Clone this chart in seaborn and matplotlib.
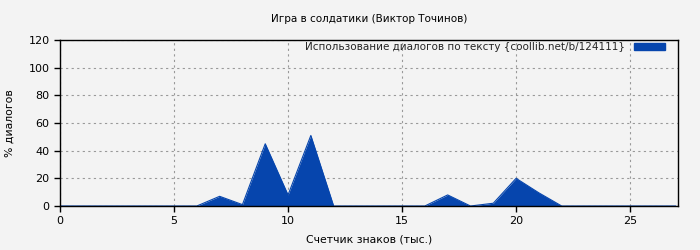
import matplotlib
matplotlib.use("Agg")
import matplotlib.pyplot as plt
import seaborn as sns
import pandas as pd
from matplotlib.patches import Patch

x_vals = [0, 1, 2, 3, 4, 5, 6, 7, 8, 9, 10, 11, 12, 13, 14, 15, 16, 17, 18, 19, 20, 21, 22, 23, 24, 25, 26, 27]
y_vals = [0, 0, 0, 0, 0, 0, 0, 7, 1, 45, 8, 51, 0, 0, 0, 0, 0, 8, 0, 2, 20, 9.5, 0, 0, 0, 0, 0, 0]

title = "Игра в солдатики (Виктор Точинов)"
xlabel = "Счетчик знаков (тыс.)"
ylabel = "% диалогов"
legend_label = "Использование диалогов по тексту {coollib.net/b/124111}"
color = "#0645AD"
bg = "#F3F3F3"

sns.set_theme(style="white")
plt.rcParams["font.family"] = ["DejaVu Sans"]
plt.rcParams["font.size"] = 8

df = pd.DataFrame({"x": x_vals, "y": y_vals})

fig = plt.figure(figsize=(7, 2.5), dpi=100, facecolor=bg)
ax = fig.add_axes([60/700, 44/250, 618/700, 166/250])
ax.set_facecolor(bg)

sns.lineplot(data=df, x="x", y="y", ax=ax, color=color, linewidth=0.8)
ax.fill_between(df["x"], df["y"], 0, color=color, linewidth=0)

ax.set_xlim(0, 27.1)
ax.set_ylim(0, 120)
ax.set_xticks([0, 5, 10, 15, 20, 25])
ax.set_yticks([0, 20, 40, 60, 80, 100, 120])
ax.grid(True, color="#999999", linestyle=(0, (2, 3)), linewidth=0.8)
for s in ["top", "right", "left", "bottom"]:
    ax.spines[s].set_visible(True)
    ax.spines[s].set_color("black")
    ax.spines[s].set_linewidth(1)
ax.tick_params(axis="both", direction="out", length=4, width=1, color="black",
               labelsize=8, bottom=True, left=True, top=False, right=False)
ax.tick_params(axis="both", labelcolor="black")

ax.set_title(title, fontsize=7.5, pad=13, color="black")
ax.set_xlabel(xlabel, fontsize=7.8, labelpad=6, color="black")
ax.set_ylabel(ylabel, fontsize=7.8, labelpad=10, color="black")

leg = ax.legend(handles=[Patch(facecolor=color, edgecolor=color)], labels=[legend_label],
                loc="upper right", bbox_to_anchor=(0.991, 1.03), fontsize=7.5, frameon=False,
                markerfirst=False, handlelength=3.0, handleheight=0.65, handletextpad=0.9,
                borderpad=0.3, borderaxespad=0.4)

fig.savefig("out.png", dpi=100, facecolor=bg)
